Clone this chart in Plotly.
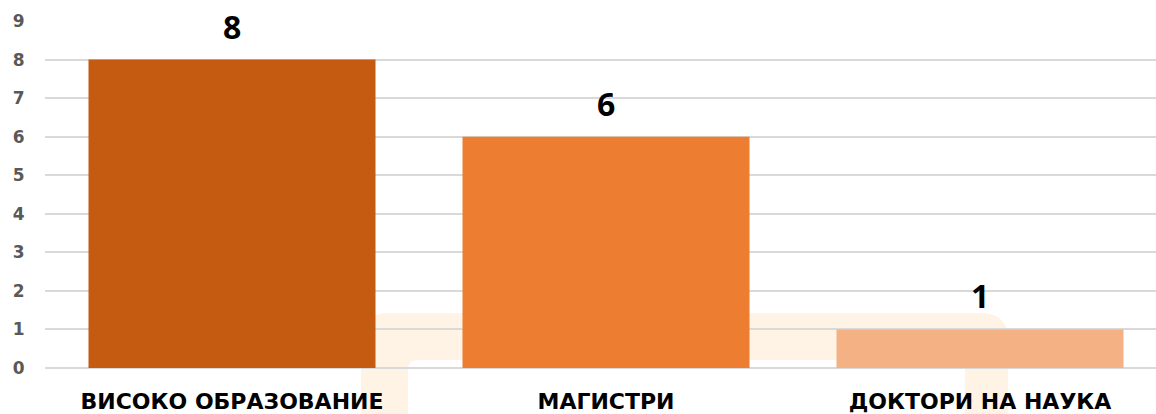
import plotly.graph_objects as go

categories = ["ВИСОКО ОБРАЗОВАНИЕ", "МАГИСТРИ", "ДОКТОРИ НА НАУКА"]
values = [8, 6, 1]
bar_colors = ["#C55A11", "#ED7D31", "#F4B183"]
y_ticks = list(range(0, 10))

W, H = 1156, 414
L, R, T, B = 45, 0, 21, 46
PW, PH = W - L - R, H - T - B
CAT_STEP_PX = 374.0


def px(xp):
    return (xp - L) / PW


def py(yp):
    return (H - B - yp) / PH


# faint background watermark (decorative arch)
ox0, ox1, oy0 = 361, 1008, 313
ix0, ix1, iy0 = 408, 965, 360
ro, ri = 27, 10
ybot = 430
wm_path = (
    f"M {px(ox0)},{py(ybot)} "
    f"L {px(ox0)},{py(oy0 + ro)} "
    f"Q {px(ox0)},{py(oy0)} {px(ox0 + ro)},{py(oy0)} "
    f"L {px(ox1 - ro)},{py(oy0)} "
    f"Q {px(ox1)},{py(oy0)} {px(ox1)},{py(oy0 + ro)} "
    f"L {px(ox1)},{py(ybot)} "
    f"L {px(ix1)},{py(ybot)} "
    f"L {px(ix1)},{py(iy0 + ri)} "
    f"Q {px(ix1)},{py(iy0)} {px(ix1 - ri)},{py(iy0)} "
    f"L {px(ix0 + ri)},{py(iy0)} "
    f"Q {px(ix0)},{py(iy0)} {px(ix0)},{py(iy0 + ri)} "
    f"L {px(ix0)},{py(ybot)} Z"
)

fig = go.Figure()
fig.add_trace(
    go.Bar(
        x=categories,
        y=values,
        marker=dict(color=bar_colors, line=dict(width=0)),
        hoverinfo="x+y",
    )
)

for c, v in zip(categories, values):
    fig.add_annotation(
        x=c,
        y=v,
        text=str(v),
        showarrow=False,
        yanchor="bottom",
        yshift=10,
        font=dict(family="Open Sans", size=32, color="#000000", weight="bold"),
    )

fig.add_shape(
    type="path",
    path=wm_path,
    xref="paper",
    yref="paper",
    fillcolor="#FEF3E5",
    line=dict(width=0),
    layer="below",
)

fig.update_layout(
    width=W,
    height=H,
    margin=dict(l=L, r=R, t=T, b=B, pad=0, autoexpand=False),
    paper_bgcolor="#FFFFFF",
    plot_bgcolor="rgba(0,0,0,0)",
    showlegend=False,
    bargap=1 - 287 / CAT_STEP_PX,
    xaxis=dict(
        range=[-0.5, -0.5 + PW / CAT_STEP_PX],
        automargin=False,
        showgrid=False,
        showline=False,
        ticks="outside",
        ticklen=14,
        tickcolor="rgba(0,0,0,0)",
        tickfont=dict(family="DejaVu Sans", size=22, color="#000000", weight="bold"),
        fixedrange=True,
    ),
    yaxis=dict(
        range=[0, 9],
        automargin=False,
        tickvals=y_ticks,
        showgrid=True,
        gridcolor="#D9D9D9",
        gridwidth=1.5,
        zeroline=True,
        zerolinecolor="#D9D9D9",
        zerolinewidth=1.5,
        showline=False,
        ticks="outside",
        ticklen=16,
        tickcolor="rgba(0,0,0,0)",
        tickfont=dict(family="DejaVu Sans", size=17, color="#595959", weight="bold"),
        fixedrange=True,
    ),
)

fig.write_html(
    "out.html",
    config={"displayModeBar": False},
    post_script="document.body.style.margin='0px';document.body.style.overflow='hidden';",
)
